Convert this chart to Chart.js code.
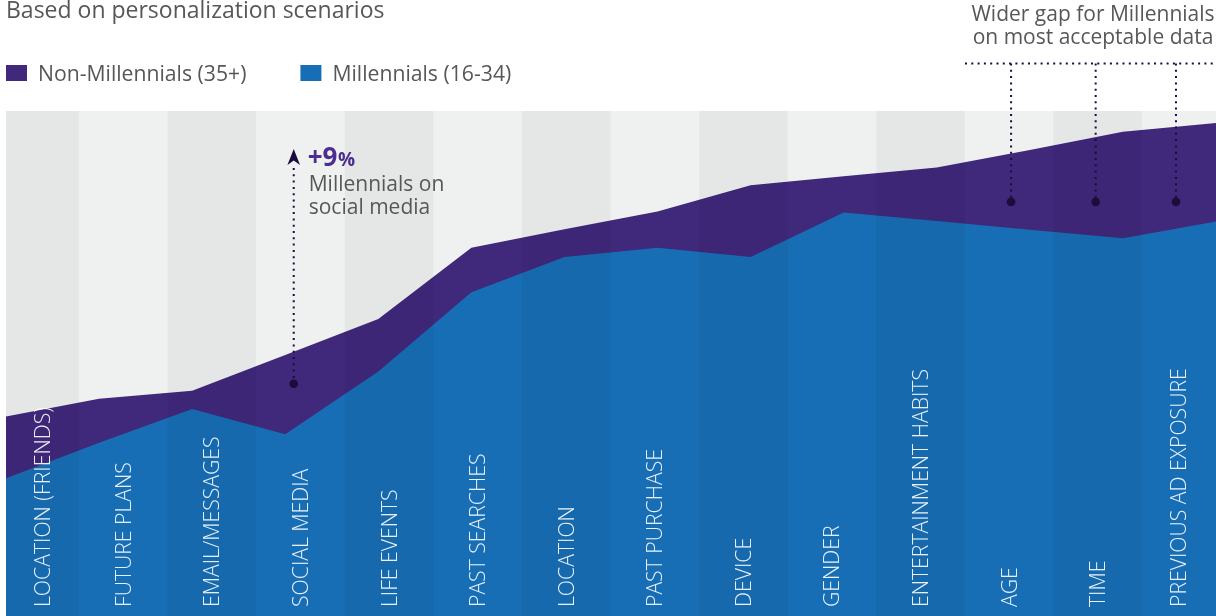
<!DOCTYPE html>
<html>
<head>
<meta charset="utf-8">
<script src="https://cdn.jsdelivr.net/npm/chart.js@4.4.1/dist/chart.umd.min.js"></script>
<style>
    html, body { margin: 0; padding: 0; background: #fff; }
    #wrap { position: relative; width: 1216px; height: 616px; }
</style>
</head>
<body>
<div id="wrap"><canvas id="canvas"></canvas></div>
<script>
let categories = ['LOCATION (FRIENDS)', 'FUTURE PLANS', 'EMAIL/MESSAGES', 'SOCIAL MEDIA', 'LIFE EVENTS',
    'PAST SEARCHES', 'LOCATION', 'PAST PURCHASE', 'DEVICE', 'GENDER', 'ENTERTAINMENT HABITS',
    'AGE', 'TIME', 'PREVIOUS AD EXPOSURE']
let nonMillennials = [39.5, 43.0, 44.6, 51.7, 58.8, 72.9, 76.6, 80.1, 85.3, 87.1, 88.8, 92.3, 95.9, 97.6]
let millennials = [27.3, 34.3, 41.0, 36.0, 48.4, 64.1, 71.1, 72.9, 71.1, 79.9, 78.2, 76.5, 74.8, 78.1]
let seriesNames = ['Non-Millennials (35+)', 'Millennials (16-34)']

let subtitle = 'Based on personalization scenarios'
let socialGain = '+9'
let socialNote = ['Millennials on', 'social media']
let gapNote = ['Wider gap for Millennials', 'on most acceptable data']
let gapCategories = ['AGE', 'TIME', 'PREVIOUS AD EXPOSURE']

let purple = '#40287b'
let blue = '#176eb4'
let ink = '#1c0c3c'
let grey = '#575757'
let font = '"Open Sans", "Noto Sans", sans-serif'

let canvas = document.getElementById('canvas')
let ctx = canvas.getContext('2d')

// left/right pixel edges of a column band, clipped to the plot
function bandEdges(chart, i) {
    let band = chart.scales.band
    let a = chart.chartArea
    let l = Math.max(a.left, band.getPixelForValue(i - 0.5))
    let r = Math.min(a.right, band.getPixelForValue(i + 0.5))
    return [l, r]
}

function dotted(ctx, x1, y1, x2, y2) {
    ctx.save()
    ctx.strokeStyle = ink
    ctx.lineWidth = 2
    ctx.setLineDash([2, 4.3])
    ctx.beginPath()
    ctx.moveTo(x1, y1)
    ctx.lineTo(x2, y2)
    ctx.stroke()
    ctx.restore()
}

function dot(ctx, x, y) {
    ctx.save()
    ctx.fillStyle = ink
    ctx.beginPath()
    ctx.arc(x, y, 4.3, 0, Math.PI * 2)
    ctx.fill()
    ctx.restore()
}

let stripes = {
    id: 'stripes',
    beforeDraw(chart) {
        let a = chart.chartArea
        chart.ctx.save()
        chart.ctx.fillStyle = '#eff0f0'
        chart.ctx.fillRect(a.left, a.top, a.width, a.height)
        chart.ctx.restore()
    },
    afterDatasetsDraw(chart) {
        let a = chart.chartArea
        let c = chart.ctx
        c.save()
        c.fillStyle = 'rgba(0,0,0,0.04)'
        categories.forEach(function(name, i) {
            if (i % 2) return
            let [l, r] = bandEdges(chart, i)
            c.fillRect(l, a.top, r - l, a.height)
        })
        c.restore()
    }
}

let texts = {
    id: 'texts',
    afterDraw(chart) {
        let c = chart.ctx
        let a = chart.chartArea
        let x = chart.scales.x
        let y = chart.scales.y

        // category names, standing up inside each column
        c.save()
        c.font = '300 21.2px ' + font
        c.fillStyle = 'rgba(255,255,255,0.9)'
        c.textBaseline = 'alphabetic'
        categories.forEach(function(name, i) {
            let [l, r] = bandEdges(chart, i)
            c.save()
            c.translate((l + r) / 2 + 7.5, a.bottom - 9)
            c.rotate(-Math.PI / 2)
            c.fillText(name, 0, 0)
            c.restore()
        })
        c.restore()

        // heading and legend
        c.save()
        c.fillStyle = grey
        c.font = '23px ' + font
        c.fillText(subtitle, 6, 17.5)
        c.font = '21.2px ' + font
        let lx = 6
        chart.data.datasets.forEach(function(ds) {
            c.fillStyle = ds.backgroundColor
            c.fillRect(lx, 65, 21, 16)
            c.fillStyle = grey
            c.fillText(ds.label, lx + 32, 81)
            lx += 32 + c.measureText(ds.label).width + 54
        })
        c.restore()

        // social media callout
        let sx = x.getPixelForValue(3) + 8.5
        dotted(c, sx, 168, sx, y.getPixelForValue(46))
        dot(c, sx, y.getPixelForValue(46))
        c.save()
        c.fillStyle = ink
        c.beginPath()
        c.moveTo(sx, 149)
        c.lineTo(sx + 6.3, 165)
        c.lineTo(sx, 160.5)
        c.lineTo(sx - 6.3, 165)
        c.closePath()
        c.fill()
        c.fillStyle = '#4b2e8f'
        c.font = 'bold 26px ' + font
        c.fillText(socialGain, sx + 14, 166)
        let gw = c.measureText(socialGain).width
        c.font = 'bold 19px ' + font
        c.fillText('%', sx + 14 + gw + 0.5, 166)
        c.fillStyle = grey
        c.font = '21px ' + font
        c.fillText(socialNote[0], sx + 15, 190.5)
        c.fillText(socialNote[1], sx + 15, 214)
        c.restore()

        // wider gap callout
        c.save()
        c.fillStyle = grey
        c.font = '21px ' + font
        c.textAlign = 'center'
        c.fillText(gapNote[0], 1093, 21)
        c.fillText(gapNote[1], 1093, 43.5)
        c.restore()
        dotted(c, 965, 63.5, a.right, 63.5)
        gapCategories.forEach(function(name, k) {
            let [l, r] = bandEdges(chart, categories.indexOf(name))
            let gx = (l + r) / 2 + [2, -2, -3][k]
            dotted(c, gx, 63.5, gx, y.getPixelForValue(82))
            dot(c, gx, y.getPixelForValue(82))
        })
    }
}

let chart = new Chart(ctx, {
    type: 'line',
    data: {
        labels: categories,
        datasets: [
            {
                label: seriesNames[0],
                data: nonMillennials,
                backgroundColor: purple,
                borderColor: 'rgba(0,0,0,0)',
                borderWidth: 0,
                pointRadius: 0,
                fill: 'origin',
                order: 2
            },
            {
                label: seriesNames[1],
                data: millennials,
                backgroundColor: blue,
                borderColor: 'rgba(0,0,0,0)',
                borderWidth: 0,
                pointRadius: 0,
                fill: 'origin',
                order: 1
            }
        ]
    },
    options: {
        responsive: true,
        maintainAspectRatio: false,
        animation: false,
        devicePixelRatio: 1,
        layout: { padding: { left: 6, top: 111, right: 0, bottom: 0 } },
        elements: { line: { tension: 0 } },
        plugins: {
            legend: { display: false },
            tooltip: { enabled: false }
        },
        scales: {
            x: { type: 'category', offset: false, display: false },
            // column bands run on their own slightly shifted grid
            band: { type: 'linear', axis: 'x', position: 'bottom', min: -0.324, max: 13.336, display: false },
            y: { min: 0, max: 100, display: false }
        }
    },
    plugins: [stripes, texts]
})
</script>
</body>
</html>
